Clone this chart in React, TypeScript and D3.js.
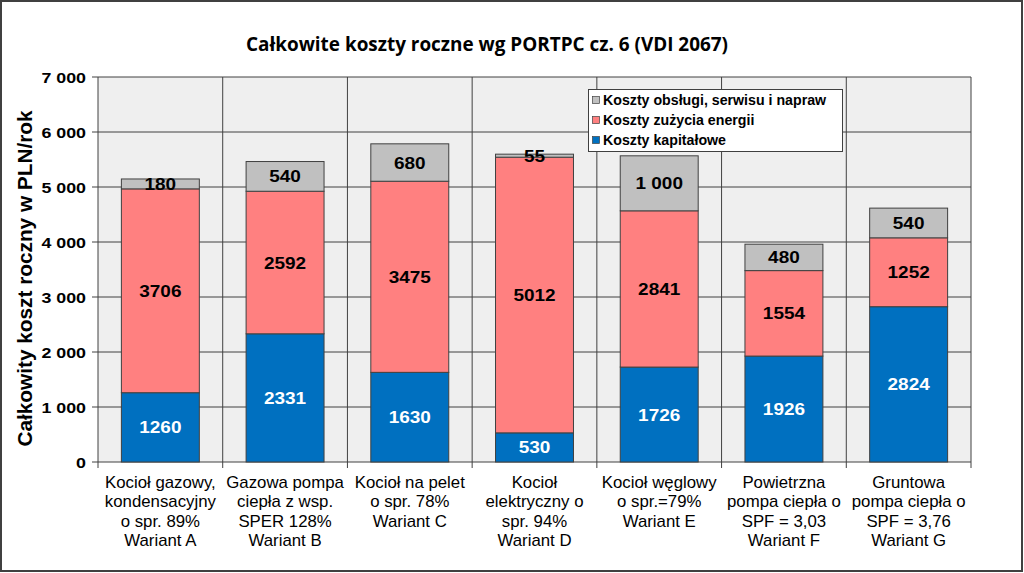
import React from "react";
import * as d3 from "d3";

const categories = [
  ["Kocioł gazowy,", "kondensacyjny", "o spr. 89%", "Wariant A"],
  ["Gazowa pompa", "ciepła z wsp.", "SPER 128%", "Wariant B"],
  ["Kocioł na pelet", "o spr. 78%", "Wariant C"],
  ["Kocioł", "elektryczny o", "spr. 94%", "Wariant D"],
  ["Kocioł węglowy", "o spr.=79%", "Wariant E"],
  ["Powietrzna", "pompa ciepła o", "SPF = 3,03", "Wariant F"],
  ["Gruntowa", "pompa ciepła o", "SPF = 3,76", "Wariant G"],
];
const categoryKeys = ["A", "B", "C", "D", "E", "F", "G"];
const kapitalowe = [1260, 2331, 1630, 530, 1726, 1926, 2824];
const energii = [3706, 2592, 3475, 5012, 2841, 1554, 1252];
const obslugi = [180, 540, 680, 55, 1000, 480, 540];
const obslugiLabels = ["180", "540", "680", "55", "1 000", "480", "540"];
const yTicks = [0, 1000, 2000, 3000, 4000, 5000, 6000, 7000];
const yTickLabels = ["0", "1 000", "2 000", "3 000", "4 000", "5 000", "6 000", "7 000"];
const seriesNames = ["Koszty obsługi, serwisu i napraw", "Koszty zużycia energii", "Koszty kapitałowe"];
const seriesColors = ["#C0C0C0", "#FF8080", "#0070C0"];

const FONT = "Arial, 'Liberation Sans', sans-serif";

function Txt({ x, y, size, weight = "normal", anchor = "middle", sx = 1.1, fill = "#000", children }: any) {
  return (
    <text
      transform={`translate(${x},${y}) scale(${sx},1)`}
      fontSize={size}
      fontWeight={weight}
      textAnchor={anchor}
      fontFamily={FONT}
      fill={fill}
    >
      {children}
    </text>
  );
}

export default function App() {
  const W = 1024, H = 573;
  const left = 98, right = 971, top = 77, bottom = 462;
  const x = d3.scaleBand<string>().domain(categoryKeys).range([left, right]).padding(0);
  const y = d3.scaleLinear().domain([0, 7000]).range([bottom, top]);
  const bw = x.bandwidth() * 0.625;
  const stack = categoryKeys.map((k, i) => {
    const a = kapitalowe[i], b = energii[i], c = obslugi[i];
    return [
      { y0: 0, y1: a, color: seriesColors[2], label: String(a), fill: "#fff" },
      { y0: a, y1: a + b, color: seriesColors[1], label: String(b), fill: "#000" },
      { y0: a + b, y1: a + b + c, color: seriesColors[0], label: obslugiLabels[i], fill: "#000" },
    ];
  });
  const boundaries = [...categoryKeys.map((k) => x(k)!), right];

  return (
    <svg width={W} height={H} style={{ position: "absolute", left: 0, top: 0, background: "#fff" }}>
      <rect x={1} y={1} width={W - 3} height={H - 3} fill="#fff" stroke="#404040" strokeWidth={2} />
      <text
        x={487}
        y={51}
        textAnchor="middle"
        fontFamily="'Open Sans', sans-serif"
        fontWeight="bold"
        fontSize={19}
        textLength={482}
        lengthAdjust="spacingAndGlyphs"
      >
        Całkowite koszty roczne wg PORTPC cz. 6 (VDI 2067)
      </text>
      <rect x={left} y={top} width={right - left} height={bottom - top} fill="#EFEFEF" />
      {yTicks.map((t) => (
        <line key={"g" + t} x1={left - 6} x2={right} y1={y(t)} y2={y(t)} stroke="#404040" strokeWidth={1} />
      ))}
      {boundaries.map((b, i) => (
        <line key={"v" + i} x1={b} x2={b} y1={top} y2={bottom + 6} stroke="#404040" strokeWidth={1} />
      ))}
      {stack.map((segs, i) =>
        segs.map((s, j) => (
          <rect
            key={`b${i}-${j}`}
            x={x(categoryKeys[i])! + (x.bandwidth() - bw) / 2}
            y={y(s.y1)}
            width={bw}
            height={y(s.y0) - y(s.y1)}
            fill={s.color}
            stroke="#404040"
            strokeWidth={1}
          />
        ))
      )}
      {stack.map((segs, i) =>
        segs.map((s, j) => (
          <Txt
            key={`l${i}-${j}`}
            x={x(categoryKeys[i])! + x.bandwidth() / 2}
            y={(y(s.y0) + y(s.y1)) / 2 + 6}
            size={16.5}
            weight="bold"
            sx={1.15}
            fill={s.fill}
          >
            {s.label}
          </Txt>
        ))
      )}
      {yTicks.map((t, i) => (
        <Txt key={"t" + t} x={86} y={y(t) + 5.5} size={15.5} weight="bold" anchor="end" sx={1.15}>
          {yTickLabels[i]}
        </Txt>
      ))}
      <g transform={`translate(32,${(top + bottom) / 2 + 9}) rotate(-90)`}>
        <text textAnchor="middle" fontFamily={FONT} fontWeight="bold" fontSize={20} transform="scale(1.04,1)">
          Całkowity koszt roczny w PLN/rok
        </text>
      </g>
      {categories.map((lines, i) =>
        lines.map((ln, j) => (
          <Txt key={`c${i}-${j}`} x={x(categoryKeys[i])! + x.bandwidth() / 2} y={487.5 + j * 19.5} size={16} sx={1.05}>
            {ln}
          </Txt>
        ))
      )}
      <rect x={588.5} y={89.5} width={254} height={62} fill="#fff" stroke="#404040" strokeWidth={1} />
      {seriesNames.map((n, i) => (
        <g key={"lg" + i}>
          <rect x={592.5} y={96.5 + i * 20} width={7} height={7} fill={seriesColors[i]} stroke="#404040" strokeWidth={0.7} />
          <text x={603} y={105 + i * 20} fontFamily={FONT} fontWeight="bold" fontSize={14.2}>
            {n}
          </text>
        </g>
      ))}
    </svg>
  );
}
